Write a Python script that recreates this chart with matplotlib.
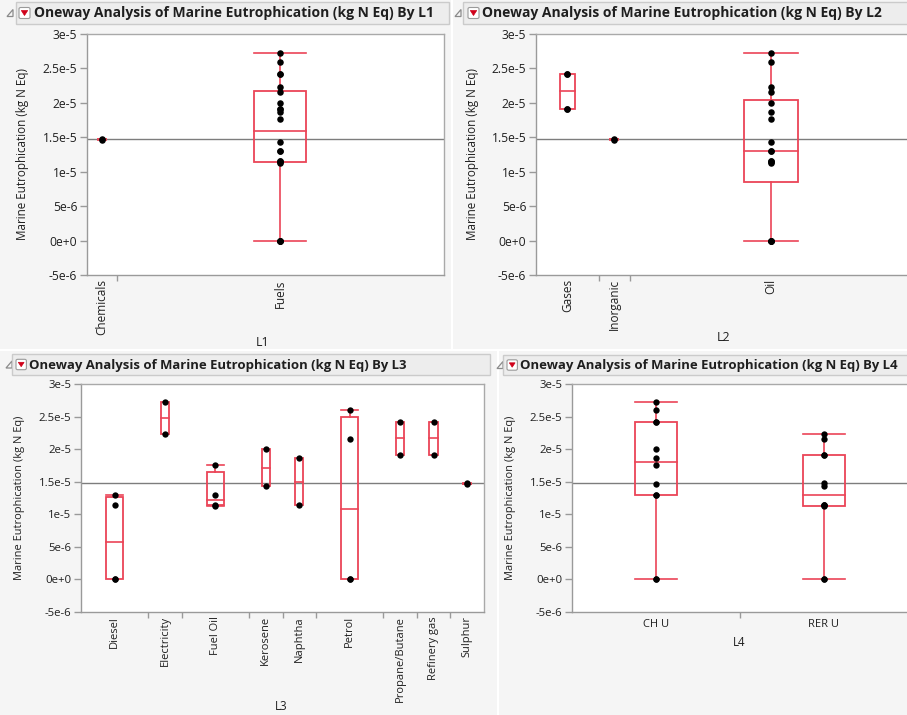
import matplotlib
matplotlib.use("Agg")
import matplotlib.pyplot as plt
from matplotlib.patches import Rectangle, FancyBboxPatch, Polygon

plt.rcParams['font.family'] = ['Open Sans', 'DejaVu Sans']

# Marine eutrophication per record (kg N Eq) and its grouping columns
values = [1.30e-5, 0.0, 1.15e-5, 0.0,          # Diesel
          2.72e-5, 2.23e-5,                      # Electricity
          1.76e-5, 1.30e-5, 1.15e-5, 1.13e-5,    # Fuel Oil
          2.00e-5, 1.43e-5,                      # Kerosene
          1.86e-5, 1.14e-5,                      # Naphtha
          2.60e-5, 0.0, 2.16e-5, 0.0,            # Petrol
          2.42e-5, 1.91e-5,                      # Propane/Butane
          2.42e-5, 1.91e-5,                      # Refinery gas
          1.46e-5, 1.48e-5]                      # Sulphur

l1 = ['Fuels'] * 22 + ['Chemicals'] * 2
l2 = ['Oil'] * 18 + ['Gases'] * 4 + ['Inorganic'] * 2
l3 = (['Diesel'] * 4 + ['Electricity'] * 2 + ['Fuel Oil'] * 4 + ['Kerosene'] * 2
      + ['Naphtha'] * 2 + ['Petrol'] * 4 + ['Propane/Butane'] * 2
      + ['Refinery gas'] * 2 + ['Sulphur'] * 2)
l4 = ['CH U', 'CH U', 'RER U', 'RER U',
      'CH U', 'RER U',
      'CH U', 'CH U', 'RER U', 'RER U',
      'CH U', 'RER U',
      'CH U', 'RER U',
      'CH U', 'CH U', 'RER U', 'RER U',
      'CH U', 'RER U',
      'CH U', 'RER U',
      'CH U', 'RER U']

l1_levels = ['Chemicals', 'Fuels']
l2_levels = ['Gases', 'Inorganic', 'Oil']
l3_levels = ['Diesel', 'Electricity', 'Fuel Oil', 'Kerosene', 'Naphtha', 'Petrol',
             'Propane/Butane', 'Refinery gas', 'Sulphur']
l4_levels = ['CH U', 'RER U']

y_ticks = [-5e-6, 0.0, 5e-6, 1e-5, 1.5e-5, 2e-5, 2.5e-5, 3e-5]
y_tick_labels = ['-5e-6', '0e+0', '5e-6', '1e-5', '1.5e-5', '2e-5', '2.5e-5', '3e-5']
y_title = 'Marine Eutrophication (kg N Eq)'
title_fmt = 'Oneway Analysis of Marine Eutrophication (kg N Eq) By {}'

W, H = 907, 715
BOX_RED = '#eb4457'
TEXT = '#1f1f1f'
FRAME = '#a9a9a9'

fig = plt.figure(figsize=(W / 100, H / 100), dpi=100)
fig.patch.set_facecolor('#f5f5f5')


def fx(x):
    return x / W


def fy(y):
    return 1 - y / H


def rect_px(x0, y0, x1, y1, **kw):
    fig.add_artist(Rectangle((fx(x0), fy(y1)), fx(x1) - fx(x0), fy(y0) - fy(y1),
                             transform=fig.transFigure, **kw))


def jmp_quantile(sorted_vals, p):
    n = len(sorted_vals)
    pos = p * (n + 1)
    if pos <= 1:
        return sorted_vals[0]
    if pos >= n:
        return sorted_vals[-1]
    i = int(pos)
    frac = pos - i
    return sorted_vals[i - 1] + frac * (sorted_vals[i] - sorted_vals[i - 1])


def header(x0, x1, y0, y1, tri_x, drop_x, text_x, label, fs):
    # disclosure triangle
    ty = (y0 + y1) / 2
    tri = Polygon([(fx(tri_x), fy(ty + 3.5)), (fx(tri_x + 6), fy(ty + 3.5)),
                   (fx(tri_x + 6), fy(ty - 3.5))], closed=True, fill=False,
                  edgecolor='#8a8a8a', lw=0.9, transform=fig.transFigure)
    fig.add_artist(tri)
    # bar
    rect_px(x0, y0, x1, y1, facecolor='#ededed', edgecolor='#cbcbcb', lw=1.0)
    # red drop-down button
    bw = 11 * fs / 10.0
    bx0, by0 = drop_x, ty - bw / 2
    fig.add_artist(FancyBboxPatch((fx(bx0), fy(by0 + bw)), fx(bw), bw / H,
                                  boxstyle='round,pad=0,rounding_size=0.002',
                                  facecolor='white', edgecolor='#9a9a9a', lw=0.8,
                                  transform=fig.transFigure))
    fig.add_artist(Polygon([(fx(bx0 + 2.3), fy(by0 + 3)), (fx(bx0 + bw - 2.3), fy(by0 + 3)),
                            (fx(bx0 + bw / 2), fy(by0 + bw - 3))], closed=True,
                           facecolor='#d0021b', edgecolor='#d0021b', lw=0.5,
                           transform=fig.transFigure))
    fig.text(fx(text_x), fy(ty + 0.5), title_fmt.format(label), fontsize=fs,
             fontweight='bold', color=TEXT, ha='left', va='center')


def panel(box, col, levels, label, label_xy, ylab_x, rotate, fs):
    left, right, top, bottom = box
    ax = fig.add_axes([fx(left), fy(bottom), fx(right) - fx(left), fy(top) - fy(bottom)])
    ax.set_facecolor('white')
    for s in ax.spines.values():
        s.set_color(FRAME)
        s.set_linewidth(1.0)
    ax.spines['left'].set_color('#9a9a9a')
    ax.spines['bottom'].set_color('#9a9a9a')

    groups = [sorted(v for v, g in zip(values, col) if g == lev) for lev in levels]
    counts = [len(g) for g in groups]
    total = sum(counts)
    ax.set_xlim(0, total)
    ax.set_ylim(y_ticks[0], y_ticks[-1])

    grand_mean = sum(values) / len(values)
    ax.axhline(grand_mean, color='#7d7d7d', lw=1.0, zorder=1)

    centers, bounds = [], []
    start = 0
    for g, n in zip(groups, counts):
        c = start + n / 2
        centers.append(c)
        start += n
        bounds.append(start)
        q1 = jmp_quantile(g, 0.25)
        med = jmp_quantile(g, 0.5)
        q3 = jmp_quantile(g, 0.75)
        iqr = q3 - q1
        lo = min(v for v in g if v >= q1 - 1.5 * iqr)
        hi = max(v for v in g if v <= q3 + 1.5 * iqr)
        w = min(0.25 * n, 3.5)
        ax.add_patch(Rectangle((c - w / 2, q1), w, q3 - q1, fill=False,
                               edgecolor=BOX_RED, lw=1.3, zorder=2))
        ax.plot([c - w / 2, c + w / 2], [med, med], color=BOX_RED, lw=1.2, zorder=2)
        ax.plot([c, c], [hi, q3], color=BOX_RED, lw=1.2, zorder=2)
        ax.plot([c, c], [lo, q1], color=BOX_RED, lw=1.2, zorder=2)
        if hi > q3:
            ax.plot([c - w / 2, c + w / 2], [hi, hi], color=BOX_RED, lw=1.2, zorder=2)
        if lo < q1:
            ax.plot([c - w / 2, c + w / 2], [lo, lo], color=BOX_RED, lw=1.2, zorder=2)
        ax.scatter([c] * n, g, s=22 * fs / 10, color='black', zorder=3, linewidths=0)

    ax.set_yticks(y_ticks)
    ax.set_yticklabels(y_tick_labels)
    ax.tick_params(axis='y', direction='out', length=5, width=1.0, color='#9a9a9a',
                   labelsize=fs * 0.87, labelcolor=TEXT, pad=2)
    ax.set_xticks(centers)
    ax.set_xticklabels(levels, rotation=90 if rotate else 0)
    ax.tick_params(axis='x', length=0, labelsize=fs * 0.85, labelcolor=TEXT,
                   pad=3 if rotate else 5)
    ax.set_xticks(bounds[:-1], minor=True)
    ax.tick_params(axis='x', which='minor', direction='out', length=4, width=1.0,
                   color='#9a9a9a')

    ax.set_ylabel(y_title, fontsize=fs * 0.84, color=TEXT)
    ax.yaxis.set_label_coords((ylab_x - left) / (right - left), 0.5)
    fig.text(fx(label_xy[0]), fy(label_xy[1]), label, fontsize=fs * 0.88, color=TEXT,
             ha='center', va='center')
    return ax


# panel separators
rect_px(0, 349, W, 351, facecolor='white', edgecolor='none')
rect_px(451, 0, 453, 349, facecolor='white', edgecolor='none')
rect_px(497, 351, 499, H, facecolor='white', edgecolor='none')

FS_TOP = 10.0
FS_BOT = 9.45

header(16, 449, 2, 24, 7, 19, 34, 'L1', FS_TOP)
header(463, 912, 2, 24, 455, 468, 482, 'L2', FS_TOP)
header(12, 490, 354, 375, 6, 16, 29, 'L3', FS_BOT)
header(503, 912, 355, 375, 497, 507, 520, 'L4', FS_BOT)

panel((87, 444, 34, 275), l1, l1_levels, 'L1', (263, 342), 29, True, FS_TOP)
panel((536, 912, 34, 275), l2, l2_levels, 'L2', (723, 338), 479, True, FS_TOP)
panel((81, 484, 384, 612), l3, l3_levels, 'L3', (281, 707), 25, True, FS_BOT)
panel((572, 908, 384, 612), l4, l4_levels, 'L4', (739, 642), 516, False, FS_BOT)

fig.savefig('out.png', dpi=100, facecolor=fig.get_facecolor())
